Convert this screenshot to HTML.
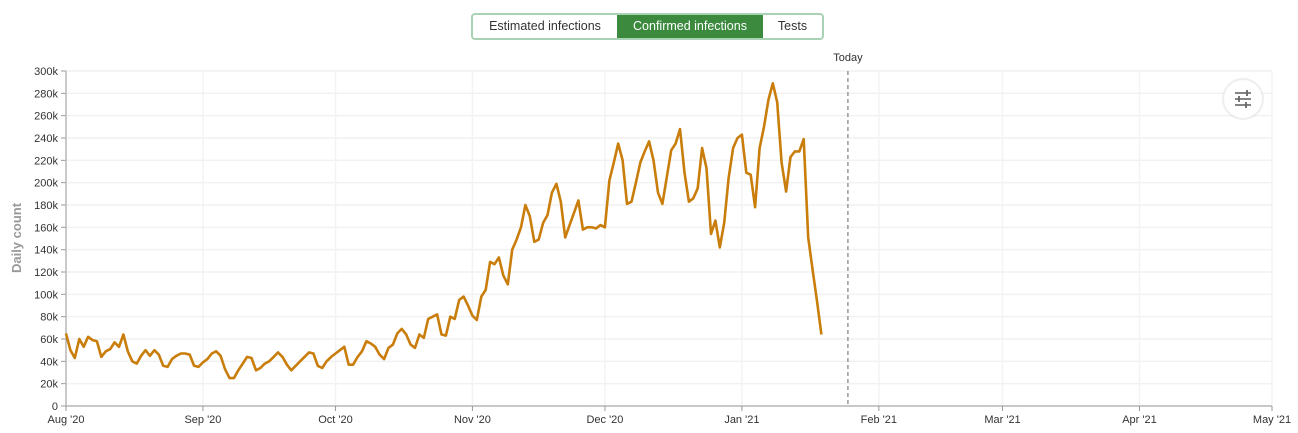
<!DOCTYPE html>
<html><head><meta charset="utf-8">
<style>
body{margin:0;background:#fff;font-family:"Liberation Sans",sans-serif;}
#wrap{position:relative;width:1298px;height:433px;overflow:hidden;}
.seg{position:absolute;top:13px;height:27px;display:flex;border:2px solid #a9d3b4;border-radius:4px;left:471px;box-sizing:border-box;overflow:hidden}
.seg div{font-size:12.5px;line-height:23px;color:#333;text-align:center;box-sizing:border-box}
.seg .on{background:#3b8a3e;color:#fff}
</style></head><body>
<div id="wrap">
<div class="seg" style="width:353px">
 <div style="width:144px">Estimated infections</div>
 <div class="on" style="width:146px">Confirmed infections</div>
 <div style="width:59px">Tests</div>
</div>
<svg id="svg" width="1298" height="433" style="position:absolute;left:0;top:0"></svg>
</div>
<script>
const yTicks=[0,20,40,60,80,100,120,140,160,180,200,220,240,260,280,300];
const monthLabels=["Aug '20","Sep '20","Oct '20","Nov '20","Dec '20","Jan '21","Feb '21","Mar '21","Apr '21","May '21"];
const monthDays=[0,31,61,92,122,153,184,212,243,273];
const todayDay=177;
const dailyCounts=[65,50,43,60,53,62,59,58,44,49,51,57,53,64,49,
40,38,45,50,45,50,46,36,35,42,45,47,47,46,36,35,
39,42,47,49,45,33,25,25,32,38,44,43,32,34,38,40,44,48,44,37,32,36,40,44,48,47,36,34,40,44,47,
50,53,37,37,44,49,58,56,53,46,42,52,55,65,69,64,55,52,64,61,78,80,82,64,
63,80,78,95,98,90,81,77,98,104,129,127,133,117,109,140,149,160,180,170,147,149,164,171,191,199,183,151,162,173,184,158,160,160,159,162,160,202,218,235,220,181,183,200,218,228,237,220,191,181,205,229,235,248,209,183,186,195,231,213,154,166,142,164,204,231,240,243,209,207,178,231,250,274,289,272,218,192,223,228,228,239,151,122,94,64];

const NS="http://www.w3.org/2000/svg";
const svg=document.getElementById('svg');
const X0=66,X1=1272,Y0=406,Y1=71,TOT=273;
const xs=d=>X0+(X1-X0)*d/TOT;
const ys=v=>Y0-(Y0-Y1)*v/300;
function mk(t,a,p){const e=document.createElementNS(NS,t);for(const k in a)e.setAttribute(k,a[k]);(p||svg).appendChild(e);return e;}

yTicks.forEach(v=>{
 const g=mk('line',{x1:X0,x2:X1,y1:ys(v),y2:ys(v),stroke:'#f1f1f1','stroke-width':1.5});
 
 
 const tk=mk('line',{x1:X0-5,x2:X0,y1:ys(v),y2:ys(v),stroke:'#999'});
 
 
 const t=mk('text',{x:X0-8,y:ys(v)+4,'text-anchor':'end','font-size':11,fill:'#333'});
 t.textContent=v===0?'0':v+'k';
 
 
});
monthDays.forEach((d,i)=>{
 const g=mk('line',{x1:xs(d),x2:xs(d),y1:Y1,y2:Y0,stroke:'#f3f3f3','stroke-width':1.5});
 
 
 const tk=mk('line',{x1:xs(d),x2:xs(d),y1:Y0,y2:Y0+5,stroke:'#999'});
 
 
 const t=mk('text',{x:xs(d),y:423,'text-anchor':'middle','font-size':11,fill:'#333'});
 t.textContent=monthLabels[i];
 
 
});
const ax=mk('line',{x1:X0,x2:X0,y1:Y1,y2:Y0,stroke:'#999'});


const bx=mk('line',{x1:X0,x2:X1,y1:Y0,y2:Y0,stroke:'#999'});



const yt=mk('text',{x:21,y:238,'text-anchor':'middle','font-size':13,'font-weight':'bold',fill:'#999',transform:'rotate(-90 21 238)'});
yt.textContent='Daily count';



const tl=mk('line',{x1:xs(todayDay),x2:xs(todayDay),y1:Y1,y2:Y0,stroke:'#888','stroke-width':1.3,'stroke-dasharray':'4,3'});


const tt=mk('text',{x:xs(todayDay),y:61,'text-anchor':'middle','font-size':11,fill:'#333'});
tt.textContent='Today';



const pts=dailyCounts.map((v,i)=>xs(i).toFixed(1)+','+ys(v).toFixed(1)).join(' ');
const pl=mk('polyline',{points:pts,fill:'none',stroke:'#c97d0a','stroke-width':2.6,'stroke-linejoin':'round'});



const fb=mk('g',{});


mk('circle',{cx:1243,cy:99,r:21,fill:'#ddd',opacity:0.5},fb);
mk('circle',{cx:1243,cy:99,r:19,fill:'#fff'},fb);
[[93,1247],[99,1239],[105,1246]].forEach(([y,kx])=>{
 mk('line',{x1:1235,x2:1251,y1:y,y2:y,stroke:'#666','stroke-width':1.6},fb);
 mk('line',{x1:kx,x2:kx,y1:y-3,y2:y+3,stroke:'#666','stroke-width':1.8},fb);
});
</script>
</body></html>
